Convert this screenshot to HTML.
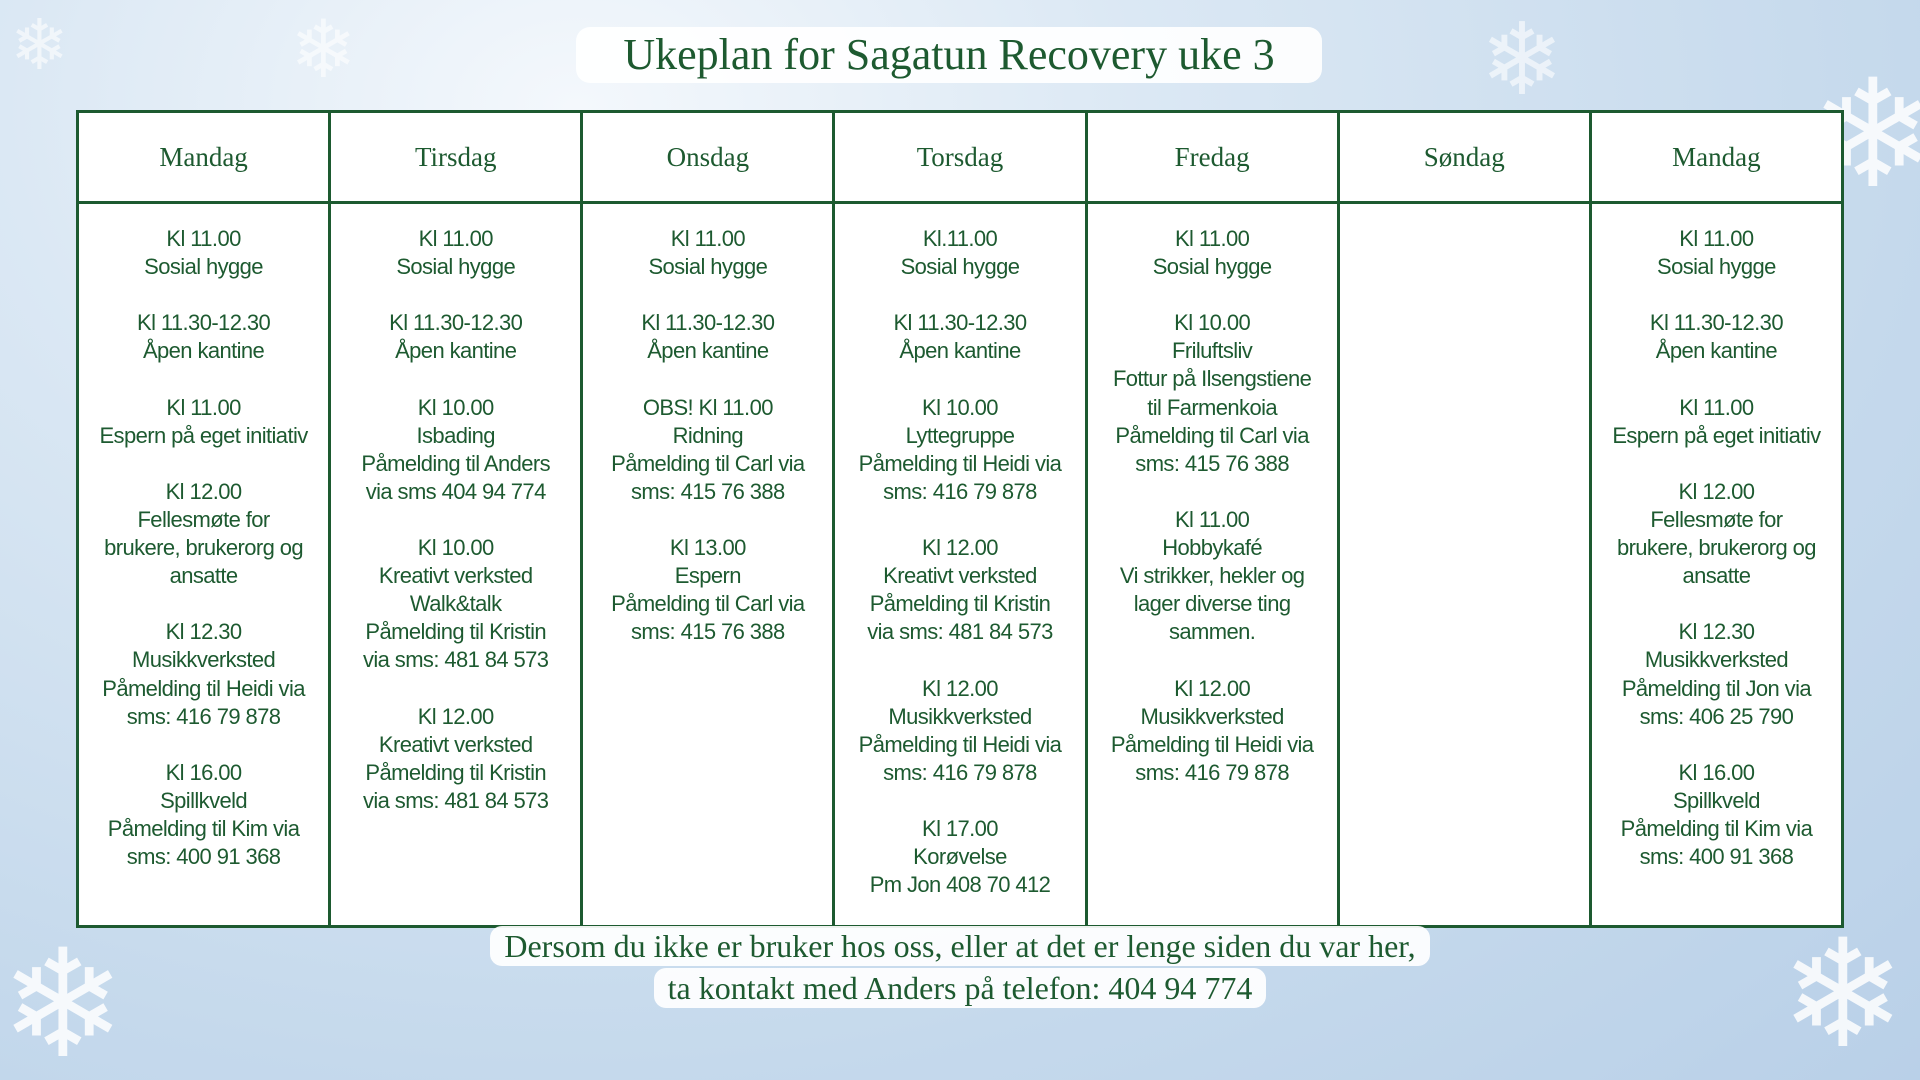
<!DOCTYPE html>
<html><head><meta charset="utf-8"><style>
html,body{margin:0;padding:0;width:1920px;height:1080px;overflow:hidden}
#wrap{width:1920px;height:1080px;overflow:hidden;position:relative;
background:radial-gradient(ellipse at 30% 10%,#f4f8fc 0%,#dbe8f4 30%,#c5d9ec 70%,#b9d0e8 100%);
font-family:"Liberation Sans Narrow","Liberation Sans",sans-serif;color:#1d5a30}
.flake{position:absolute;color:#fff;opacity:.85;font-family:"DejaVu Sans",sans-serif;line-height:1}
.title{position:absolute;left:576px;top:27px;width:746px;height:56px;background:rgba(255,255,255,.92);border-radius:14px;
text-align:center;font-family:"Liberation Serif",serif;font-size:44px;line-height:56px;color:#1d5a30}
table{position:absolute;left:76px;top:110px;width:1768px;height:818px;border-collapse:collapse;background:#fff;table-layout:fixed}
td,th{border:3px solid #1d5a30;text-align:center;vertical-align:top;padding:0}
th{height:88px;line-height:80px;vertical-align:middle;font-family:"Liberation Serif",serif;font-weight:normal;font-size:27px;color:#1d5a30}
td{font-size:22px;line-height:28.1px;padding-top:21px;letter-spacing:-0.6px}
.foot{position:absolute;left:0;width:1920px;text-align:center;font-family:"Liberation Serif",serif;font-size:32px;color:#1d5a30}
.foot span{background:rgba(255,255,255,.92);border-radius:12px;padding:2px 14px}
</style></head><body><div id="wrap">
<div class="flake" style="left:0;top:930px;font-size:150px">❄</div>
<div class="flake" style="left:1780px;top:920px;font-size:150px">❄</div>
<div class="flake" style="left:1810px;top:60px;font-size:150px">❄</div>
<div class="flake" style="left:290px;top:10px;font-size:80px;opacity:.6">❄</div>
<div class="flake" style="left:10px;top:10px;font-size:70px;opacity:.6">❄</div>
<div class="flake" style="left:1480px;top:10px;font-size:100px;opacity:.6">❄</div>
<div class="title">Ukeplan for Sagatun Recovery uke 3</div>
<table>
<tr><th>Mandag</th><th>Tirsdag</th><th>Onsdag</th><th>Torsdag</th><th>Fredag</th><th>Søndag</th><th>Mandag</th></tr>
<tr>
<td>Kl 11.00<br>Sosial hygge<br><br>Kl 11.30-12.30<br>Åpen kantine<br><br>Kl 11.00<br>Espern på eget initiativ<br><br>Kl 12.00<br>Fellesmøte for<br>brukere, brukerorg og<br>ansatte<br><br>Kl 12.30<br>Musikkverksted<br>Påmelding til Heidi via<br>sms: 416 79 878<br><br>Kl 16.00<br>Spillkveld<br>Påmelding til Kim via<br>sms: 400 91 368</td>
<td>Kl 11.00<br>Sosial hygge<br><br>Kl 11.30-12.30<br>Åpen kantine<br><br>Kl 10.00<br>Isbading<br>Påmelding til Anders<br>via sms 404 94 774<br><br>Kl 10.00<br>Kreativt verksted<br>Walk&amp;talk<br>Påmelding til Kristin<br>via sms: 481 84 573<br><br>Kl 12.00<br>Kreativt verksted<br>Påmelding til Kristin<br>via sms: 481 84 573</td>
<td>Kl 11.00<br>Sosial hygge<br><br>Kl 11.30-12.30<br>Åpen kantine<br><br>OBS! Kl 11.00<br>Ridning<br>Påmelding til Carl via<br>sms: 415 76 388<br><br>Kl 13.00<br>Espern<br>Påmelding til Carl via<br>sms: 415 76 388</td>
<td>Kl.11.00<br>Sosial hygge<br><br>Kl 11.30-12.30<br>Åpen kantine<br><br>Kl 10.00<br>Lyttegruppe<br>Påmelding til Heidi via<br>sms: 416 79 878<br><br>Kl 12.00<br>Kreativt verksted<br>Påmelding til Kristin<br>via sms: 481 84 573<br><br>Kl 12.00<br>Musikkverksted<br>Påmelding til Heidi via<br>sms: 416 79 878<br><br>Kl 17.00<br>Korøvelse<br>Pm Jon 408 70 412</td>
<td>Kl 11.00<br>Sosial hygge<br><br>Kl 10.00<br>Friluftsliv<br>Fottur på Ilsengstiene<br>til Farmenkoia<br>Påmelding til Carl via<br>sms: 415 76 388<br><br>Kl 11.00<br>Hobbykafé<br>Vi strikker, hekler og<br>lager diverse ting<br>sammen.<br><br>Kl 12.00<br>Musikkverksted<br>Påmelding til Heidi via<br>sms: 416 79 878</td>
<td></td>
<td>Kl 11.00<br>Sosial hygge<br><br>Kl 11.30-12.30<br>Åpen kantine<br><br>Kl 11.00<br>Espern på eget initiativ<br><br>Kl 12.00<br>Fellesmøte for<br>brukere, brukerorg og<br>ansatte<br><br>Kl 12.30<br>Musikkverksted<br>Påmelding til Jon via<br>sms: 406 25 790<br><br>Kl 16.00<br>Spillkveld<br>Påmelding til Kim via<br>sms: 400 91 368</td>
</tr></table>
<div class="foot" style="top:928px"><span>Dersom du ikke er bruker hos oss, eller at det er lenge siden du var her,</span></div>
<div class="foot" style="top:970px"><span>ta kontakt med Anders på telefon: 404 94 774</span></div>
</div></body></html>
